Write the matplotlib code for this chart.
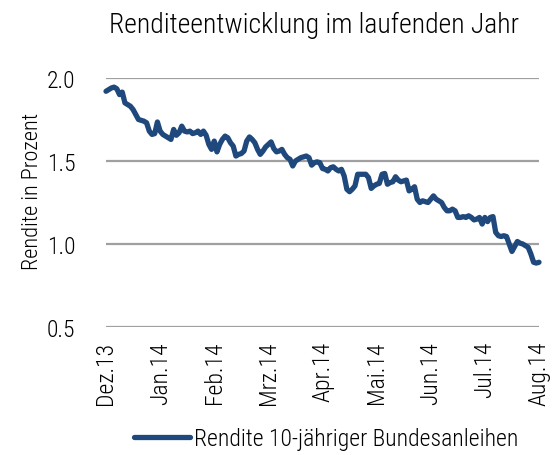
import matplotlib
matplotlib.use("Agg")
import matplotlib.pyplot as plt
from matplotlib import font_manager

names = {f.name for f in font_manager.fontManager.ttflist}
fam = [n for n in ["Roboto Condensed", "Liberation Sans Narrow", "Liberation Sans"] if n in names] + ["DejaVu Sans"]
plt.rcParams['font.family'] = fam
plt.rcParams['font.weight'] = 'light'
plt.rcParams['axes.labelweight'] = 'light'

title = "Renditeentwicklung im laufenden Jahr"
ylabel = "Rendite in Prozent"
series_name = "Rendite 10-jähriger Bundesanleihen"
month_labels = ["Dez.13", "Jan.14", "Feb.14", "Mrz.14", "Apr.14", "Mai.14", "Jun.14", "Jul.14", "Aug.14"]
yields = [
    1.92, 1.93, 1.94, 1.945, 1.935, 1.90, 1.915, 1.85, 1.84, 1.83,
    1.81, 1.78, 1.75, 1.745, 1.74, 1.73, 1.68, 1.66, 1.665, 1.735,
    1.68, 1.66, 1.65, 1.64, 1.63, 1.69, 1.655, 1.67, 1.71, 1.68,
    1.675, 1.68, 1.665, 1.67, 1.68, 1.66, 1.68, 1.655, 1.60, 1.57,
    1.62, 1.555, 1.60, 1.63, 1.65, 1.64, 1.61, 1.59, 1.53, 1.54,
    1.545, 1.56, 1.62, 1.645, 1.63, 1.61, 1.57, 1.54, 1.56, 1.585,
    1.60, 1.615, 1.575, 1.555, 1.56, 1.57, 1.54, 1.52, 1.51, 1.47,
    1.50, 1.51, 1.52, 1.525, 1.53, 1.52, 1.475, 1.49, 1.495, 1.49,
    1.455, 1.45, 1.44, 1.46, 1.465, 1.45, 1.44, 1.45, 1.41, 1.33,
    1.315, 1.33, 1.35, 1.42, 1.42, 1.42, 1.42, 1.40, 1.335, 1.35,
    1.36, 1.365, 1.42, 1.425, 1.36, 1.37, 1.375, 1.405, 1.385, 1.375,
    1.38, 1.385, 1.32, 1.33, 1.345, 1.27, 1.25, 1.26, 1.255, 1.25,
    1.27, 1.29, 1.27, 1.26, 1.25, 1.22, 1.20, 1.20, 1.21, 1.20,
    1.16, 1.16, 1.165, 1.16, 1.17, 1.16, 1.145, 1.15, 1.16, 1.12,
    1.16, 1.135, 1.16, 1.165, 1.07, 1.05, 1.045, 1.05, 1.045, 1.00,
    0.955, 0.985, 1.015, 1.005, 1.0, 0.99, 0.98, 0.94, 0.89, 0.885,
    0.89,
]
y_ticks = [0.5, 1.0, 1.5, 2.0]

fig = plt.figure(figsize=(5.55, 4.56), dpi=100)
ax = fig.add_axes([106/555, 1-328/456, (539-106)/555, (328-79)/456])

x = list(range(len(yields)))
line, = ax.plot(x, yields, color="#1F497D", lw=3.8, solid_capstyle="round",
                solid_joinstyle="round", clip_on=False, zorder=3)

ax.set_ylim(0.5, 2.0)
ax.set_xlim(0, len(yields) - 1)
ax.set_yticks(y_ticks)
ax.set_yticklabels([f"{v:.1f}" for v in y_ticks], fontsize=17)
step = (len(yields) - 1) / (len(month_labels) - 1)
ax.set_xticks([i * step for i in range(len(month_labels))])
ax.set_xticklabels(month_labels, rotation=90, fontsize=17, va="top", ha="center")
ax.tick_params(axis="both", length=0)
ax.tick_params(axis="y", pad=22)
ax.tick_params(axis="x", pad=10)
for s in ax.spines.values():
    s.set_visible(False)
ax.grid(axis="y", color="#A0A0A0", lw=1.6)
ax.set_axisbelow(True)
ax.set_ylabel(ylabel, fontsize=16, fontweight="light")
ax.yaxis.set_label_coords(-0.145, 0.55)

fig.text(314/555, 1-25/456, title, ha="center", va="center", fontsize=20)
fig.legend([line], [series_name], loc="center", bbox_to_anchor=(326/555, 1-440/456),
           frameon=False, fontsize=17, handlelength=2.4, handletextpad=0.15)

fig.savefig("out.png", dpi=100)
